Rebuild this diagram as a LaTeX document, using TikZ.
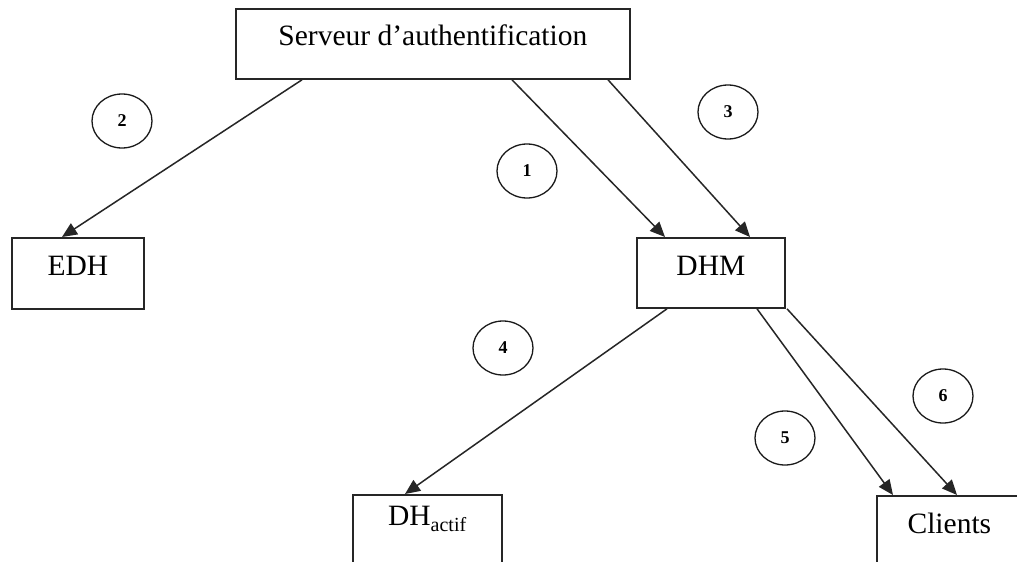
\documentclass[tikz,border=0pt]{standalone}
\usepackage{fontspec}
\setmainfont{Liberation Serif}
\usetikzlibrary{arrows.meta,shapes.geometric}
\tikzset{
  box/.style={draw=black!85, line width=1.8pt, rectangle, inner sep=0pt, anchor=north west,
              font=\fontsize{29.5}{32}\selectfont, align=center},
  num/.style={draw=black!90, line width=1.3pt, ellipse, inner sep=0pt,
              minimum width=60pt, minimum height=54pt, font=\bfseries\fontsize{18}{20}\selectfont},
  arr/.style={draw=black!85, line width=1.5pt, -{Triangle[length=15pt,width=13pt]}}
}
\begin{document}
\begin{tikzpicture}[x=1pt,y=-1pt]
\useasboundingbox (0,0) rectangle (1017,562);
\fill[white] (0,0) rectangle (1017,562);
\clip (0,0) rectangle (1017,562);
% boxes
\node[box, minimum width=394pt, text height=37pt, text depth=33pt] (srv) at (235,8) {Serveur d’authentification};
\node[box, minimum width=132pt, text height=38pt, text depth=33pt] (edh) at (11,237) {EDH};
\node[box, minimum width=148pt, text height=38pt, text depth=32pt] (dhm) at (636,237) {DHM};
\node[box, minimum width=149pt, text height=31pt, text depth=42pt] (dha) at (352,494) {DH\textsubscript{\fontsize{20}{21}\selectfont actif}};
\node[box, minimum width=145pt, text height=38pt, text depth=36pt] (cli) at (876,495) {Clients};
% numbered circles
\node[num] (c2) at (122,121) {2};
\node[num] (c1) at (527,171) {1};
\node[num] (c3) at (728,112) {3};
\node[num] (c4) at (503,348) {4};
\node[num] (c5) at (785,438) {5};
\node[num] (c6) at (943,396) {6};
% connectors
\draw[arr] ([xshift=67pt]srv.south west) -- ([xshift=51pt]edh.north west);
\draw[arr] ([xshift=277pt]srv.south west) -- ([xshift=29pt]dhm.north west);
\draw[arr] ([xshift=373pt]srv.south west) -- ([xshift=114pt]dhm.north west);
\draw[arr] ([xshift=31pt]dhm.south west) -- ([xshift=53pt]dha.north west);
\draw[arr] ([xshift=121pt]dhm.south west) -- ([xshift=17pt]cli.north west);
\draw[arr] ([xshift=151pt]dhm.south west) -- ([xshift=81pt]cli.north west);
\end{tikzpicture}
\end{document}
